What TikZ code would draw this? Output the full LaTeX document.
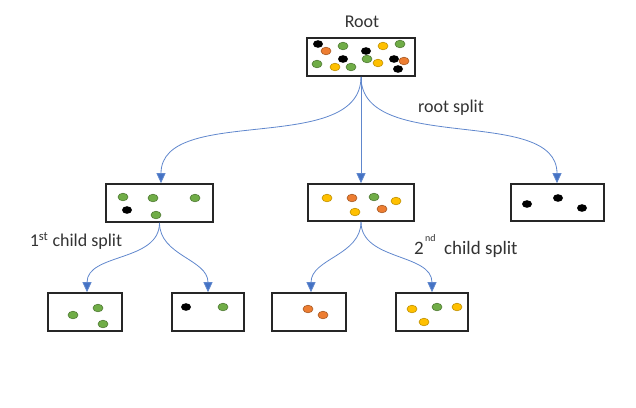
\documentclass[tikz,border=0pt]{standalone}
\usepackage{fontspec}
\setmainfont{Carlito}
\usetikzlibrary{arrows.meta}
\definecolor{obl}{RGB}{68,114,196}
\definecolor{ogr}{RGB}{112,173,71}
\definecolor{oor}{RGB}{237,125,49}
\definecolor{oye}{RGB}{255,192,0}
\tikzset{
  boxs/.style={draw=black!85, line width=1.6pt, minimum width=#1, minimum height=38pt, inner sep=0pt},
  gd/.style={fill=ogr, draw=ogr!70!black, line width=0.6pt},
  od/.style={fill=oor, draw=oor!70!black, line width=0.6pt},
  yd/.style={fill=oye, draw=oye!75!black, line width=0.6pt},
  kd/.style={fill=black},
  conn/.style={draw=obl!85, line width=0.8pt, -{Triangle[length=10pt,width=9pt,fill=obl]}},
  lbl/.style={font=\fontsize{18}{20}\selectfont, text=black!80, inner sep=0pt},
  sup/.style={font=\fontsize{10}{11}\selectfont, text=black!80, inner sep=0pt}
}
\newcommand{\dt}[3]{\fill[#1] (#2,#3) ellipse (5pt and 3.8pt);}
\begin{document}
\begin{tikzpicture}[x=1pt,y=-1pt]
\useasboundingbox (0,0) rectangle (636,407);
% boxes
\node[boxs=108pt] (root) at (361,57) {};
\node[boxs=107pt] (c1) at (159.5,203) {};
\node[boxs=106pt, minimum height=37pt] (c2) at (361,202.5) {};
\node[boxs=93pt, minimum height=37pt] (c3) at (557.5,202.5) {};
\node[boxs=74pt] (l1) at (85,312) {};
\node[boxs=72pt] (l2) at (208,312) {};
\node[boxs=74pt] (l3) at (309,312) {};
\node[boxs=72pt] (l4) at (432,312) {};
% labels
\node[lbl] (troot) at (362,22) {Root};
\node[lbl] (trs) at (451,108) {root split};
\node[lbl] (t1) at (76,241) {1\textsuperscript{st} child split};
\node[lbl, anchor=west, font=\fontsize{19}{21}\selectfont] (t2) at (414,249) {2\hspace{16pt} child split};
\node[sup, anchor=west] (t2s) at (425,238) {nd};
% root dots
\dt{kd}{318}{44}
\dt{od}{326}{51}
\dt{gd}{343}{46}
\dt{kd}{366}{51}
\dt{yd}{383}{46}
\dt{gd}{400}{44}
\dt{gd}{317}{64}
\dt{yd}{335}{67}
\dt{kd}{343}{59}
\dt{gd}{351}{67}
\dt{gd}{367}{59}
\dt{yd}{378}{63}
\dt{kd}{394}{59}
\dt{od}{404}{61}
\dt{kd}{398}{69}
% child1 dots
\dt{gd}{123}{197}
\dt{gd}{153}{198}
\dt{gd}{195}{198}
\dt{kd}{127}{210}
\dt{gd}{156}{215}
% child2 dots
\dt{yd}{327}{198}
\dt{od}{352}{198}
\dt{gd}{374}{197}
\dt{yd}{396}{201}
\dt{yd}{355}{212}
\dt{od}{382}{209}
% child3 dots
\dt{kd}{527}{204}
\dt{kd}{558}{198}
\dt{kd}{582}{208}
% leaf dots
\dt{gd}{73}{315}
\dt{gd}{98}{308}
\dt{gd}{103}{324}
\dt{kd}{186}{307}
\dt{gd}{223}{307}
\dt{od}{308}{309}
\dt{od}{323}{315}
\dt{yd}{412}{309}
\dt{gd}{437}{307}
\dt{yd}{457}{307}
\dt{yd}{424}{322}
% connectors
\coordinate (rs) at (root.south);
\draw[conn] (rs) to[out=-90,in=90,looseness=0.9] (c1.north -| 161,0);
\draw[conn] (rs) -- (c2.north);
\draw[conn] (rs) to[out=-90,in=90,looseness=0.9] (c3.north -| 557,0);
\draw[conn] (c1.south) to[out=-90,in=90] (l1.north -| 87,0);
\draw[conn] (c1.south) to[out=-90,in=90] (l2.north);
\draw[conn] (c2.south) to[out=-90,in=90] (l3.north -| 311,0);
\draw[conn] (c2.south) to[out=-90,in=90] (l4.north);
\end{tikzpicture}
\end{document}
